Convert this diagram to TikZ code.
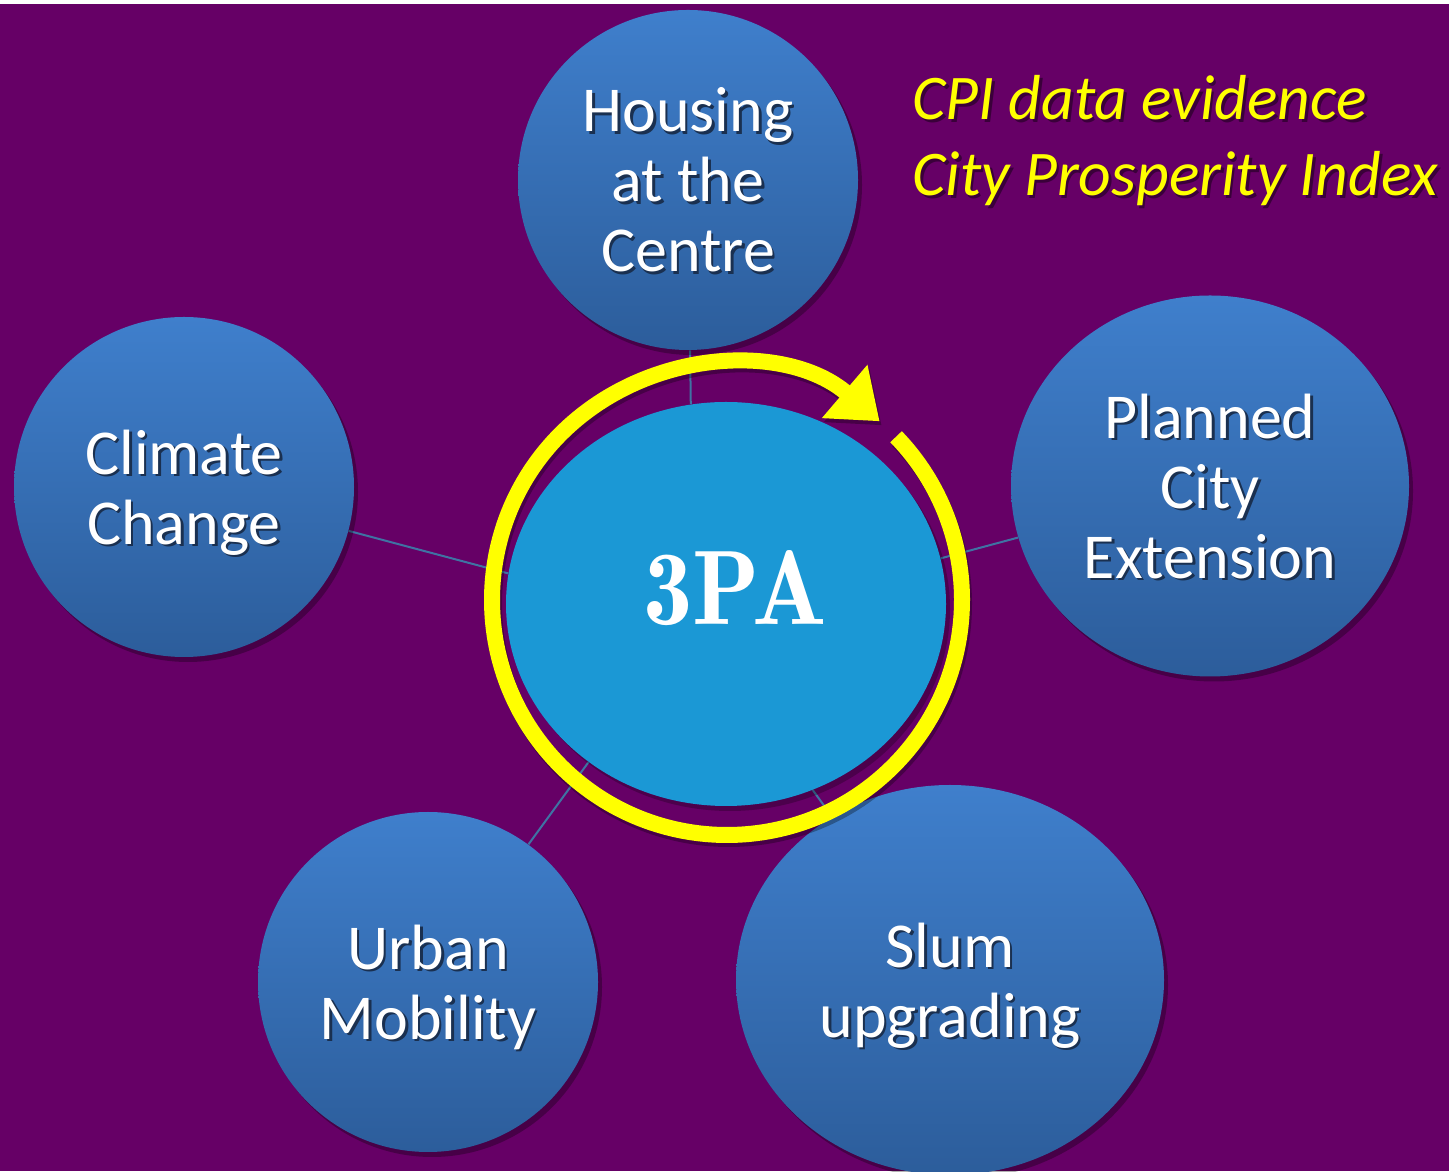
\documentclass[tikz,border=0pt]{standalone}
\usepackage{fontspec}
\newfontfamily\calib{Carlito}
\newfontfamily\hubfont{lmromandemi10-regular.otf}
\usetikzlibrary{arrows.meta,shapes.geometric,shadows}
\definecolor{bgpurple}{HTML}{660066}
\definecolor{ctrblue}{HTML}{1B98D5}
\definecolor{topblue}{HTML}{3F7FCC}
\definecolor{botblue}{HTML}{2C5D9B}
\definecolor{linkblue}{HTML}{3F73A3}
\definecolor{tshadow}{HTML}{1A3050}
\definecolor{yshadow}{HTML}{3A003A}
\definecolor{cpiyellow}{HTML}{FFFF00}
\newcommand\stx[2][tshadow]{\leavevmode\rlap{\hspace{1.3pt}\raisebox{-1.3pt}{\textcolor{#1}{#2}}}#2}
\pgfdeclarelayer{bg}
\pgfdeclarelayer{links}
\pgfsetlayers{bg,links,main}
\begin{document}
\begin{tikzpicture}[x=0.5pt,y=0.5pt,
  bubble/.style={ellipse, inner sep=0pt, top color=topblue, bottom color=botblue,
    text=white, align=center, text depth=0pt, font=\calib\fontsize{32}{35}\selectfont,
    drop shadow={shadow xshift=2pt,shadow yshift=-2.5pt,opacity=0.3,fill=black}},
  hub/.style={ellipse, inner sep=0pt, fill=ctrblue,
    drop shadow={shadow xshift=2pt,shadow yshift=-2.5pt,opacity=0.25,fill=black}},
  link/.style={draw=linkblue, line width=1pt},
  ring/.style={line width=8pt, draw=cpiyellow, -{Triangle[length=23pt,width=33.5pt]}},
  ringshadow/.style={line width=8pt, draw=black, draw opacity=0.3, -{Triangle[length=23pt,width=33.5pt]}, fill opacity=0.3},
  cpi/.style={anchor=base west, inner sep=0pt, text=cpiyellow, font=\calib\itshape\fontsize{31.8}{35}\selectfont}]
\useasboundingbox (0,0) rectangle (1449,1171);
\begin{pgfonlayer}{bg}
  \fill[white] (0,0) rectangle (1449,1171);
  \fill[bgpurple] (0,0) rectangle (1449,1167);
\end{pgfonlayer}
% hub
\node[hub, minimum width=220pt, minimum height=202pt] (ctr) at (726,567) {};
% satellites
\node[bubble, minimum width=170pt, minimum height=170pt] (house) at (688,991)
  {\stx{Housing}\\\stx{at the}\\\stx{Centre}};
\node[bubble, minimum width=170pt, minimum height=170pt] (climate) at (184,684)
  {\stx{Climate}\\\stx{Change}};
\node[bubble, minimum width=199pt, minimum height=190.5pt] (planned) at (1210,685)
  {\stx{Planned}\\\stx{City}\\\stx{Extension}};
\node[bubble, minimum width=170pt, minimum height=170pt] (urban) at (428,189)
  {\stx{Urban}\\\stx{Mobility}};
\node[bubble, minimum width=214pt, minimum height=195pt] (slum) at (950,191)
  {\stx{Slum}\\\stx{upgrading}};
% connectors
\begin{pgfonlayer}{links}
  \draw[link] (house) -- (ctr.100.5);
  \draw[link] (climate) -- (ctr.172);
  \draw[link] (planned) -- (ctr.12.6);
  \draw[link] (urban) -- (ctr.229);
  \draw[link] (slum) -- (ctr.295);
\end{pgfonlayer}
% ring with arrow
\coordinate (ringc) at (727,571);
\coordinate (ringcs) at (729,567);
\draw[ringshadow] (ringcs) ++(44:235) arc[start angle=44,end angle=-310.5,radius=235];
\draw[ring] (ringc) ++(44:235) arc[start angle=44,end angle=-310.5,radius=235];
% hub label
\node[anchor=base, inner sep=0pt, text=white, font=\hubfont\fontsize{53}{60}\selectfont] (lbl) at (735,546) {\scalebox{0.93}[1]{3PA}};
% CPI text
\node[cpi] (cpi1) at (912,1051) {\stx[yshadow]{CPI data evidence}};
\node[cpi] (cpi2) at (912,975) {\stx[yshadow]{City Prosperity Index}};
\end{tikzpicture}
\end{document}
